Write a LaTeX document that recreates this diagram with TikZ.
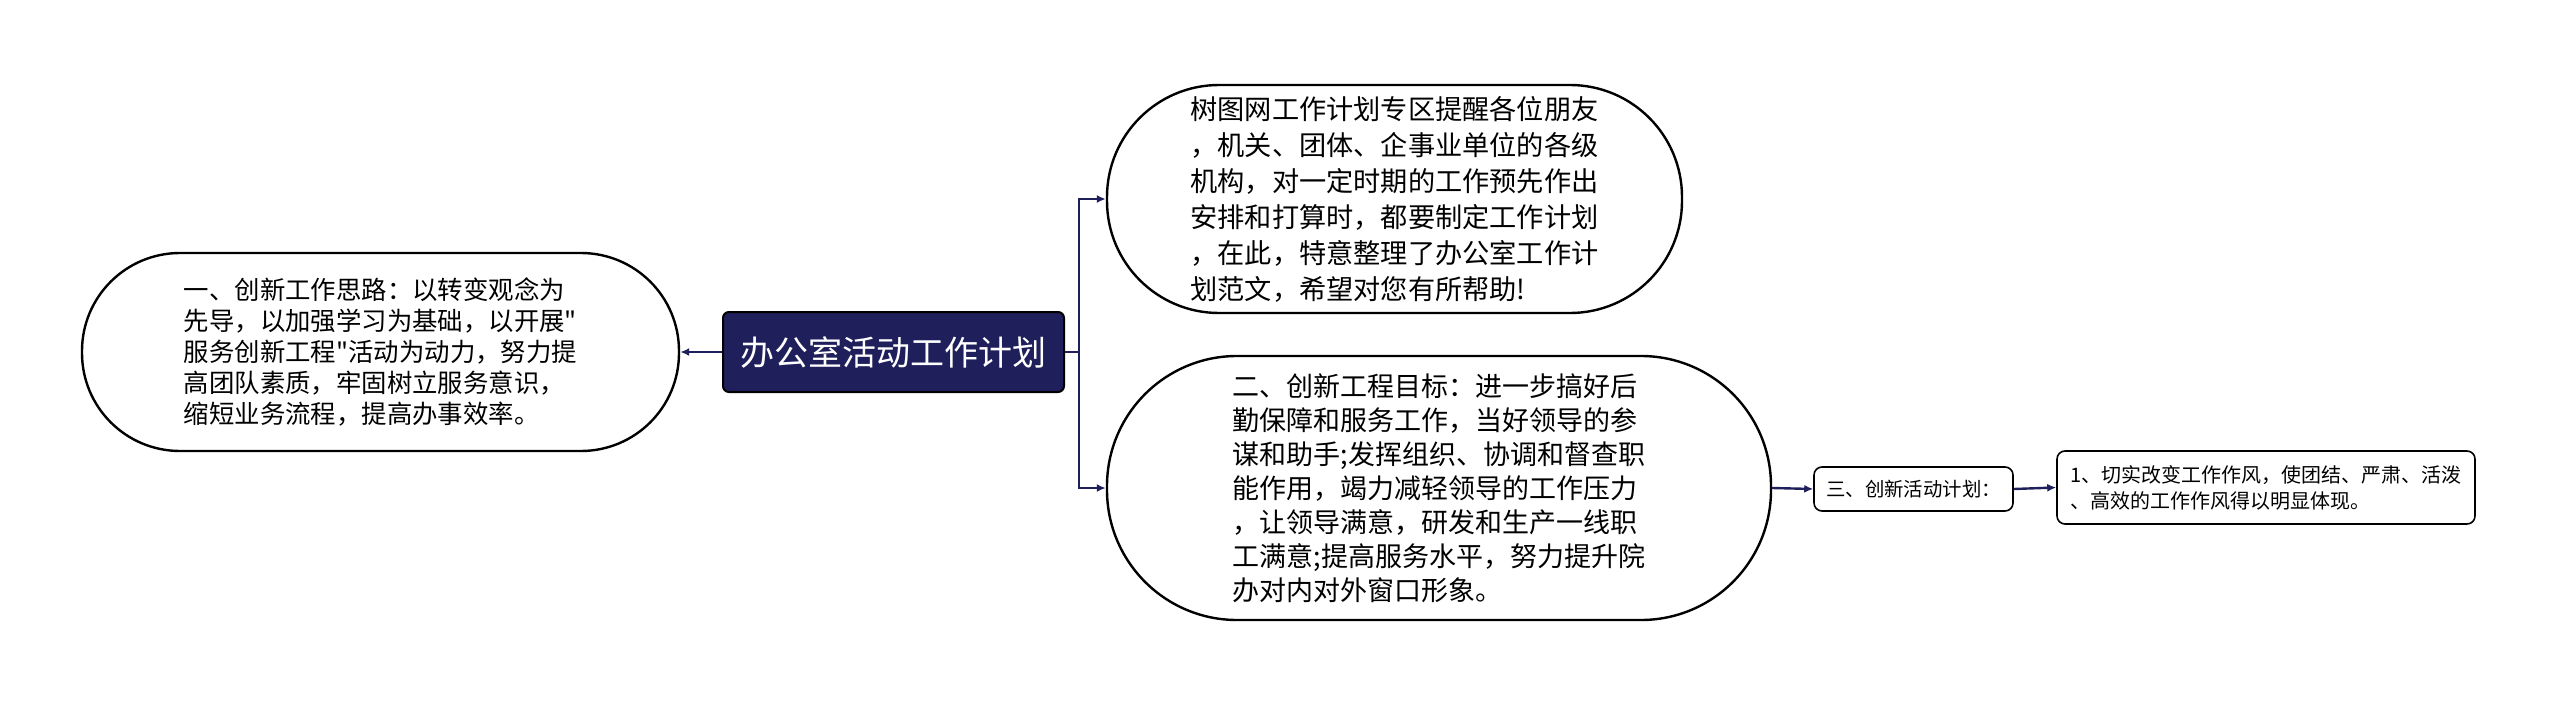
\documentclass[tikz,border=0pt]{standalone}
\usepackage{fontspec}
\setmainfont{Noto Sans CJK SC}[Ligatures=TeXOff]
\usetikzlibrary{arrows.meta}
\definecolor{navy}{HTML}{1F1F5B}

\begin{document}
\begin{tikzpicture}[x=0.5pt, y=-0.5pt, line width=1pt,
    topic/.style={draw=black, line width=1.2pt, fill=white, align=left,
      inner sep=0pt},
    leaf/.style={draw=black, line width=0.8pt, fill=white, align=left,
      rounded corners=4pt, inner sep=0pt},
    link/.style={draw=navy, line width=1.2pt, -{Latex[length=4.5pt,width=4pt]}}]
  \useasboundingbox (0,0) rectangle (2560,706);
  % node centres
  \def\yM{352}
  \def\xFork{1079}
  % ---- root -----------------------------------------------------------
  \node[draw=black, fill=navy, text=white, rounded corners=3pt, line width=1pt,
    minimum width=170.5pt, minimum height=40pt,
    font=\fontsize{17}{20}\selectfont] (root) at (893.5,\yM) {办公室活动工作计划};
  % ---- left -----------------------------------------------------------
  \node[topic, rounded corners=49pt, minimum width=298.5pt, minimum height=99pt,
    font=\fontsize{12.7}{15.5}\selectfont] (idea) at (380.5,\yM)
    {一、创新工作思路：以转变观念为\\先导，以加强学习为基础，以开展"\\服务创新工程"活动为动力，努力提\\高团队素质，牢固树立服务意识，\\缩短业务流程，提高办事效率。};
  % ---- right ----------------------------------------------------------
  \node[topic, rounded corners=56pt, minimum width=287.5pt, minimum height=114pt,
    font=\fontsize{13.6}{18}\selectfont] (intro) at (1394.5,199)
    {树图网工作计划专区提醒各位朋友\\，机关、团体、企事业单位的各级\\机构，对一定时期的工作预先作出\\安排和打算时，都要制定工作计划\\，在此，特意整理了办公室工作计\\划范文，希望对您有所帮助!};
  \node[topic, rounded corners=65pt, minimum width=332pt, minimum height=132pt,
    font=\fontsize{13.5}{17}\selectfont] (goal) at (1439,488)
    {二、创新工程目标：进一步搞好后\\勤保障和服务工作，当好领导的参\\谋和助手;发挥组织、协调和督查职\\能作用，竭力减轻领导的工作压力\\，让领导满意，研发和生产一线职\\工满意;提高服务水平，努力提升院\\办对内对外窗口形象。};
  \node[leaf, minimum width=99.5pt, minimum height=22pt, align=center,
    font=\fontsize{9.7}{12}\selectfont] (plan) at (1913.5,489) {三、创新活动计划：};
  \node[leaf, minimum width=209pt, minimum height=36.5pt,
    font=\fontsize{10}{13}\selectfont] (style) at (2266,487.5)
    {1、切实改变工作作风，使团结、严肃、活泼\\、高效的工作作风得以明显体现。};
  % ---- connectors -----------------------------------------------------
  \draw[link] (root.west) -- (idea.east);
  \coordinate (fork) at (\xFork,\yM);
  \draw[draw=navy, line width=1.2pt] (root.east) -- (fork);
  \draw[link] (fork) |- (intro.west);
  \draw[link] (fork) |- (goal.west);
  \draw[link] (goal.east) -- (plan.west);
  \draw[link] (plan.east) -- (style.west);
\end{tikzpicture}
\end{document}
